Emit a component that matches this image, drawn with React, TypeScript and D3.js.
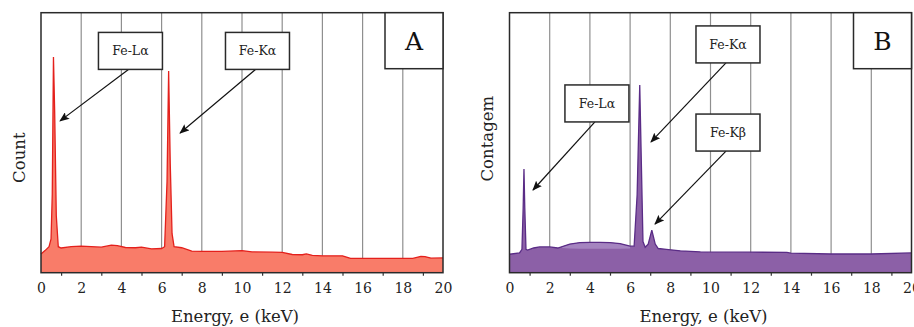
import { useRef, useEffect } from "react";
import * as d3 from "d3";

// spectrum A (keV, counts in arbitrary units)
const energyA = [0, 0.2, 0.4, 0.5, 0.56, 0.62, 0.68, 0.76, 0.86, 1.0, 1.5, 2.0, 2.5, 3.0, 3.5, 3.8, 4.2, 4.7, 5.0, 5.5, 6.0, 6.15, 6.27, 6.35, 6.43, 6.52, 6.62, 7.0, 7.5, 8.0, 9.0, 10.0, 10.5, 11.5, 12.0, 12.5, 13.0, 13.2, 13.5, 14.0, 15.0, 15.2, 15.4, 17.0, 18.5, 18.9, 19.1, 19.4, 20];
const countA = [72, 85, 100, 130, 300, 830, 620, 220, 100, 95, 100, 102, 100, 98, 106, 104, 97, 96, 98, 92, 93, 100, 350, 776, 420, 150, 100, 96, 83, 82, 82, 85, 80, 79, 78, 70, 69, 72, 67, 65, 65, 60, 55, 55, 55, 63, 62, 56, 57];

// spectrum B
const energyB = [0, 0.5, 0.62, 0.68, 0.72, 0.76, 0.82, 0.9, 1.2, 1.5, 2.0, 2.4, 3.0, 3.5, 4.0, 4.5, 5.0, 5.5, 6.0, 6.2, 6.35, 6.48, 6.56, 6.64, 6.75, 6.9, 7.08, 7.25, 7.4, 7.8, 8.5, 9.5, 12, 13.8, 14.0, 16, 18, 20];
const countB = [71, 76, 90, 250, 399, 250, 90, 87, 95, 99, 99, 95, 110, 116, 117, 117, 116, 112, 102, 102, 300, 722, 420, 120, 98, 110, 164, 110, 93, 90, 84, 80, 79, 78, 75, 72, 72, 76];
// lighter band inside B (keV, low, high)
const bandEnergyB = [2.6, 3.0, 3.5, 4.0, 4.5, 5.0, 5.5, 6.0];
const bandLowB = [95, 93, 92, 92, 92, 92, 92, 93];
const bandHighB = [100, 110, 116, 117, 117, 116, 112, 102];

const xTicks = [0, 2, 4, 6, 8, 10, 12, 14, 16, 18, 20];
const minorTicks = [1, 3, 5, 7, 9, 11, 13, 15, 17, 19];

// annotations: label, box centre (keV, count), arrow tip (keV, count)
const labelsA = ["Fe-Lα", "Fe-Kα"];
const boxA = [[4.45, 853], [10.77, 853]];
const tipA = [[0.95, 584], [6.92, 537]];
const labelsB = ["Fe-Kα", "Fe-Lα", "Fe-Kβ"];
const boxB = [[10.87, 878], [4.35, 651], [10.87, 539]];
const tipB = [[7.04, 503], [1.17, 318], [7.24, 187]];

const FONT = "'DejaVu Serif', serif";

type Panel = {
  left: number;
  energy: number[];
  count: number[];
  fill: string;
  stroke: string;
  yLabel: string;
  yLabelX: number;
  letter: string;
  labels: string[];
  boxes: number[][];
  tips: number[][];
  band?: { e: number[]; lo: number[]; hi: number[]; fill: string };
};

export default function App() {
  const svgRef = useRef<SVGSVGElement>(null);

  useEffect(() => {
    if (!svgRef.current) return;
    const svg = d3.select(svgRef.current);
    svg.selectAll("*").remove();

    const top = 12.7;
    const bottom = 272.7;
    const plotW = 402;

    svg
      .append("defs")
      .append("marker")
      .attr("id", "arrow")
      .attr("viewBox", "0 0 10 8")
      .attr("refX", 9)
      .attr("refY", 4)
      .attr("markerWidth", 10)
      .attr("markerHeight", 8)
      .attr("markerUnits", "userSpaceOnUse")
      .attr("orient", "auto")
      .append("path")
      .attr("d", "M0,0 L10,4 L0,8 L2,4 z")
      .attr("fill", "#111");

    const panels: Panel[] = [
      {
        left: 41,
        energy: energyA,
        count: countA,
        fill: "#f97c69",
        stroke: "#e4201c",
        yLabel: "Count",
        yLabelX: 25,
        letter: "A",
        labels: labelsA,
        boxes: boxA,
        tips: tipA,
      },
      {
        left: 509.5,
        energy: energyB,
        count: countB,
        fill: "#8c60a7",
        stroke: "#5a2c86",
        yLabel: "Contagem",
        yLabelX: 493,
        letter: "B",
        labels: labelsB,
        boxes: boxB,
        tips: tipB,
        band: { e: bandEnergyB, lo: bandLowB, hi: bandHighB, fill: "#a584c0" },
      },
    ];

    panels.forEach((p) => {
      const x = d3.scaleLinear().domain([0, 20]).range([p.left, p.left + plotW]);
      const y = d3.scaleLinear().domain([0, 1000]).range([bottom, top]);
      const g = svg.append("g");

      // grid
      g.selectAll("line.grid")
        .data(xTicks.slice(1, -1))
        .join("line")
        .attr("class", "grid")
        .attr("x1", (d) => x(d))
        .attr("x2", (d) => x(d))
        .attr("y1", top)
        .attr("y2", bottom)
        .attr("stroke", "#8f8f8f")
        .attr("stroke-width", 1.2);

      const pts = p.energy.map((e, i) => [e, p.count[i]] as [number, number]);
      g.append("path")
        .datum(pts)
        .attr("fill", p.fill)
        .attr(
          "d",
          d3
            .area<[number, number]>()
            .x((d) => x(d[0]))
            .y0(y(0))
            .y1((d) => y(d[1]))
        );

      if (p.band) {
        const b = p.band;
        const bp = b.e.map((e, i) => [e, b.lo[i], b.hi[i]]);
        g.append("path")
          .datum(bp)
          .attr("fill", b.fill)
          .attr(
            "d",
            d3
              .area<number[]>()
              .x((d) => x(d[0]))
              .y0((d) => y(d[1]))
              .y1((d) => y(d[2]))
          );
      }

      g.append("path")
        .datum(pts)
        .attr("fill", "none")
        .attr("stroke", p.stroke)
        .attr("stroke-width", 1.3)
        .attr(
          "d",
          d3
            .line<[number, number]>()
            .x((d) => x(d[0]))
            .y((d) => y(d[1]))
        );

      // frame
      g.append("rect")
        .attr("x", p.left)
        .attr("y", top)
        .attr("width", plotW)
        .attr("height", bottom - top)
        .attr("fill", "none")
        .attr("stroke", "#2a2a2a")
        .attr("stroke-width", 1.5);

      // axis
      const ax = g.append("g").attr("transform", `translate(0,${bottom})`);
      ax.call(d3.axisBottom(x).tickValues(xTicks).tickSize(0).tickPadding(10).tickFormat(d3.format("d")));
      ax.select(".domain").remove();
      ax.selectAll("text")
        .attr("font-family", FONT)
        .attr("font-size", 14)
        .attr("fill", "#222");

      const mx = g.append("g").attr("transform", `translate(0,${bottom})`);
      mx.call(d3.axisBottom(x).tickValues(minorTicks).tickSize(3).tickFormat(() => ""));
      mx.select(".domain").remove();
      mx.selectAll("line").attr("stroke", "#333").attr("stroke-width", 1.2);

      // axis titles
      g.append("text")
        .attr("x", p.left + plotW / 2 - 7)
        .attr("y", 322)
        .attr("text-anchor", "middle")
        .attr("font-family", FONT)
        .attr("font-size", 16.5)
        .attr("fill", "#222")
        .text("Energy, e (keV)");

      g.append("text")
        .attr("transform", `translate(${p.yLabelX},${(top + bottom) / 2 + (p.letter === "B" ? -4 : 15)}) rotate(-90)`)
        .attr("text-anchor", "middle")
        .attr("font-family", FONT)
        .attr("font-size", 16.5)
        .attr("fill", "#222")
        .text(p.yLabel);

      // panel letter box
      const lw = 58;
      const lh = 56;
      g.append("rect")
        .attr("x", p.left + plotW - lw)
        .attr("y", top)
        .attr("width", lw)
        .attr("height", lh)
        .attr("fill", "#fff")
        .attr("stroke", "#2a2a2a")
        .attr("stroke-width", 1.5);
      g.append("text")
        .attr("x", p.left + plotW - lw / 2)
        .attr("y", top + 37)
        .attr("text-anchor", "middle")
        .attr("font-family", FONT)
        .attr("font-size", 25)
        .attr("fill", "#111")
        .text(p.letter);

      // annotations
      const bw = 64;
      const bh = 37;
      p.labels.forEach((lab, i) => {
        const cx = x(p.boxes[i][0]);
        const cy = y(p.boxes[i][1]);
        g.append("line")
          .attr("x1", cx - 2)
          .attr("y1", cy + bh / 2)
          .attr("x2", x(p.tips[i][0]))
          .attr("y2", y(p.tips[i][1]))
          .attr("stroke", "#111")
          .attr("stroke-width", 1.2)
          .attr("marker-end", "url(#arrow)");
        g.append("rect")
          .attr("x", cx - bw / 2)
          .attr("y", cy - bh / 2)
          .attr("width", bw)
          .attr("height", bh)
          .attr("fill", "#fff")
          .attr("stroke", "#2a2a2a")
          .attr("stroke-width", 1.5);
        g.append("text")
          .attr("x", cx)
          .attr("y", cy + 4.5)
          .attr("text-anchor", "middle")
          .attr("font-family", FONT)
          .attr("font-size", 12.5)
          .attr("fill", "#222")
          .text(lab);
      });
    });
  }, []);

  return (
    <svg
      ref={svgRef}
      width={914}
      height={327}
      style={{ position: "absolute", left: 0, top: 0, background: "#fff" }}
    />
  );
}
